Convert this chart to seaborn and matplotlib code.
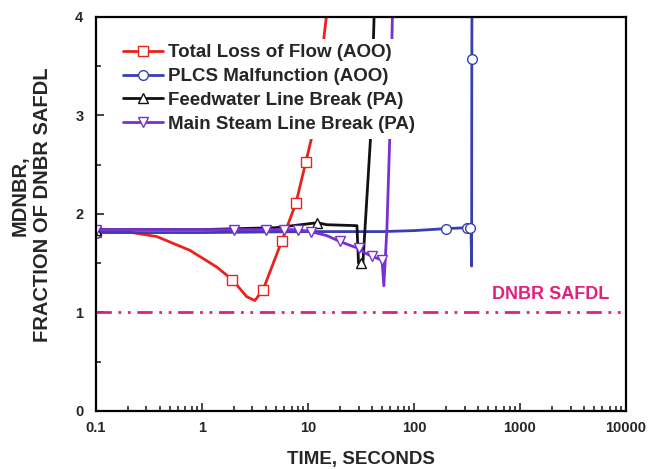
import numpy as np
import pandas as pd
import matplotlib
matplotlib.use('Agg')
import matplotlib.pyplot as plt
from matplotlib.ticker import FixedLocator, LogLocator, NullFormatter, MultipleLocator
import seaborn as sns

# ── data ──────────────────────────────────────────────────
lof_t = [0.1, 0.15, 0.22, 0.374, 0.77, 1.38, 1.94, 2.64, 3.16, 3.78, 5.65, 7.71, 9.57, 11.1, 15.3]
lof_y = [1.82, 1.82, 1.81, 1.77, 1.63, 1.46, 1.33, 1.16, 1.12, 1.23, 1.72, 2.11, 2.53, 2.82, 4.10]
lof_mk = [0, 6, 9, 10, 11, 12]

plcs_t = [0.1, 1, 10, 50, 100, 200, 320, 335, 345, 350, 351.5, 353]
plcs_y = [1.81, 1.81, 1.82, 1.82, 1.83, 1.85, 1.86, 1.86, 1.87, 1.47, 3.57, 4.30]
plcs_mk = [0, 5, 6, 7, 10]

fwlb_t = [0.1, 1, 5, 12.3, 15, 29, 30, 32, 33, 39.3, 42.8]
fwlb_y = [1.84, 1.84, 1.86, 1.91, 1.89, 1.88, 1.50, 1.50, 1.50, 2.84, 4.30]
fwlb_mk = [0, 3, 7]

mslb_t = [0.1, 2, 4, 6, 8, 10.6, 15, 20, 25, 30, 35, 40, 50, 52, 55.6, 59.4, 63.5]
mslb_y = [1.84, 1.84, 1.84, 1.84, 1.84, 1.82, 1.78, 1.72, 1.68, 1.65, 1.60, 1.57, 1.53, 1.27, 1.85, 2.84, 4.30]
mslb_mk = [0, 1, 2, 3, 4, 5, 7, 9, 11, 12]

safdl = 1.0
ylabel_lines = ["MDNBR,", "FRACTION OF DNBR SAFDL"]

series = [
    ("Total Loss of Flow (AOO)", lof_t, lof_y, lof_mk, "#E8231C", "s"),
    ("PLCS Malfunction (AOO)", plcs_t, plcs_y, plcs_mk, "#3840B0", "o"),
    ("Feedwater Line Break (PA)", fwlb_t, fwlb_y, fwlb_mk, "#111111", "^"),
    ("Main Steam Line Break (PA)", mslb_t, mslb_y, mslb_mk, "#7A2FD3", "v"),
]

# ── styling ───────────────────────────────────────────────
sns.set_theme(style="ticks")
plt.rcParams.update({"font.family": ["Liberation Sans", "DejaVu Sans"],
                     "font.weight": "bold"})

fig = plt.figure(figsize=(6.48, 4.69), dpi=100)
ax = fig.add_axes([0.148, 0.124, 0.818, 0.840])

for name, t, y, mk, col, m in series:
    df = pd.DataFrame({"t": t, "y": y})
    sns.lineplot(data=df, x="t", y="y", ax=ax, sort=False, estimator=None,
                 color=col, lw=2.0, label=name, marker=m, markevery=mk,
                 markersize=7, markerfacecolor="white", markeredgecolor=col,
                 markeredgewidth=1.0)

ax.axhline(safdl, color="#E0207A", lw=2.0, dashes=(5.5, 2.4, 1, 2.4, 1, 2.4))
ax.text(7000, 1.10, "DNBR SAFDL", color="#E0207A", fontsize=13,
        fontweight="bold", ha="right", va="bottom")

ax.set_xscale("log")
ax.set_xlim(0.1, 10000)
ax.set_ylim(0, 4)
ax.xaxis.set_major_locator(FixedLocator([0.1, 1, 10, 100, 1000, 10000]))
ax.set_xticklabels(["0.1", "1", "10", "100", "1000", "10000"])
ax.xaxis.set_minor_locator(LogLocator(base=10, subs=np.arange(2, 10)))
ax.xaxis.set_minor_formatter(NullFormatter())
ax.yaxis.set_major_locator(MultipleLocator(1))
ax.yaxis.set_minor_locator(MultipleLocator(0.5))

ax.tick_params(which="both", direction="in", top=False, right=False,
               labelsize=10.5, width=1.2)
ax.tick_params(axis="x", pad=7)
ax.tick_params(axis="y", pad=9)
ax.tick_params(which="major", length=6)
ax.tick_params(which="minor", length=3.5)
for lab in ax.get_xticklabels() + ax.get_yticklabels():
    lab.set_fontweight("bold")
for sp in ax.spines.values():
    sp.set_linewidth(1.6)
    sp.set_color("black")

ax.set_xlabel("TIME, SECONDS", fontsize=13.5, fontweight="bold", labelpad=12)
ax.set_ylabel("")
# two-line y label, placed line by line
for xpix, ypix, line in zip([20, 43], [196, 205], ylabel_lines):
    fig.text(xpix / 648, 1 - ypix / 469, line, rotation=90, ha="center",
             va="center", fontsize=14.5, fontweight="bold")

leg = ax.legend(loc="upper left", bbox_to_anchor=(0.041, 0.945), borderaxespad=0,
                frameon=True, facecolor="white", edgecolor="none", framealpha=1,
                fancybox=False, fontsize=13.5, handlelength=2.1, handletextpad=0.3,
                labelspacing=0.36, borderpad=0.3)
for txt in leg.get_texts():
    txt.set_fontweight("bold")

fig.savefig("out.png", dpi=100)
